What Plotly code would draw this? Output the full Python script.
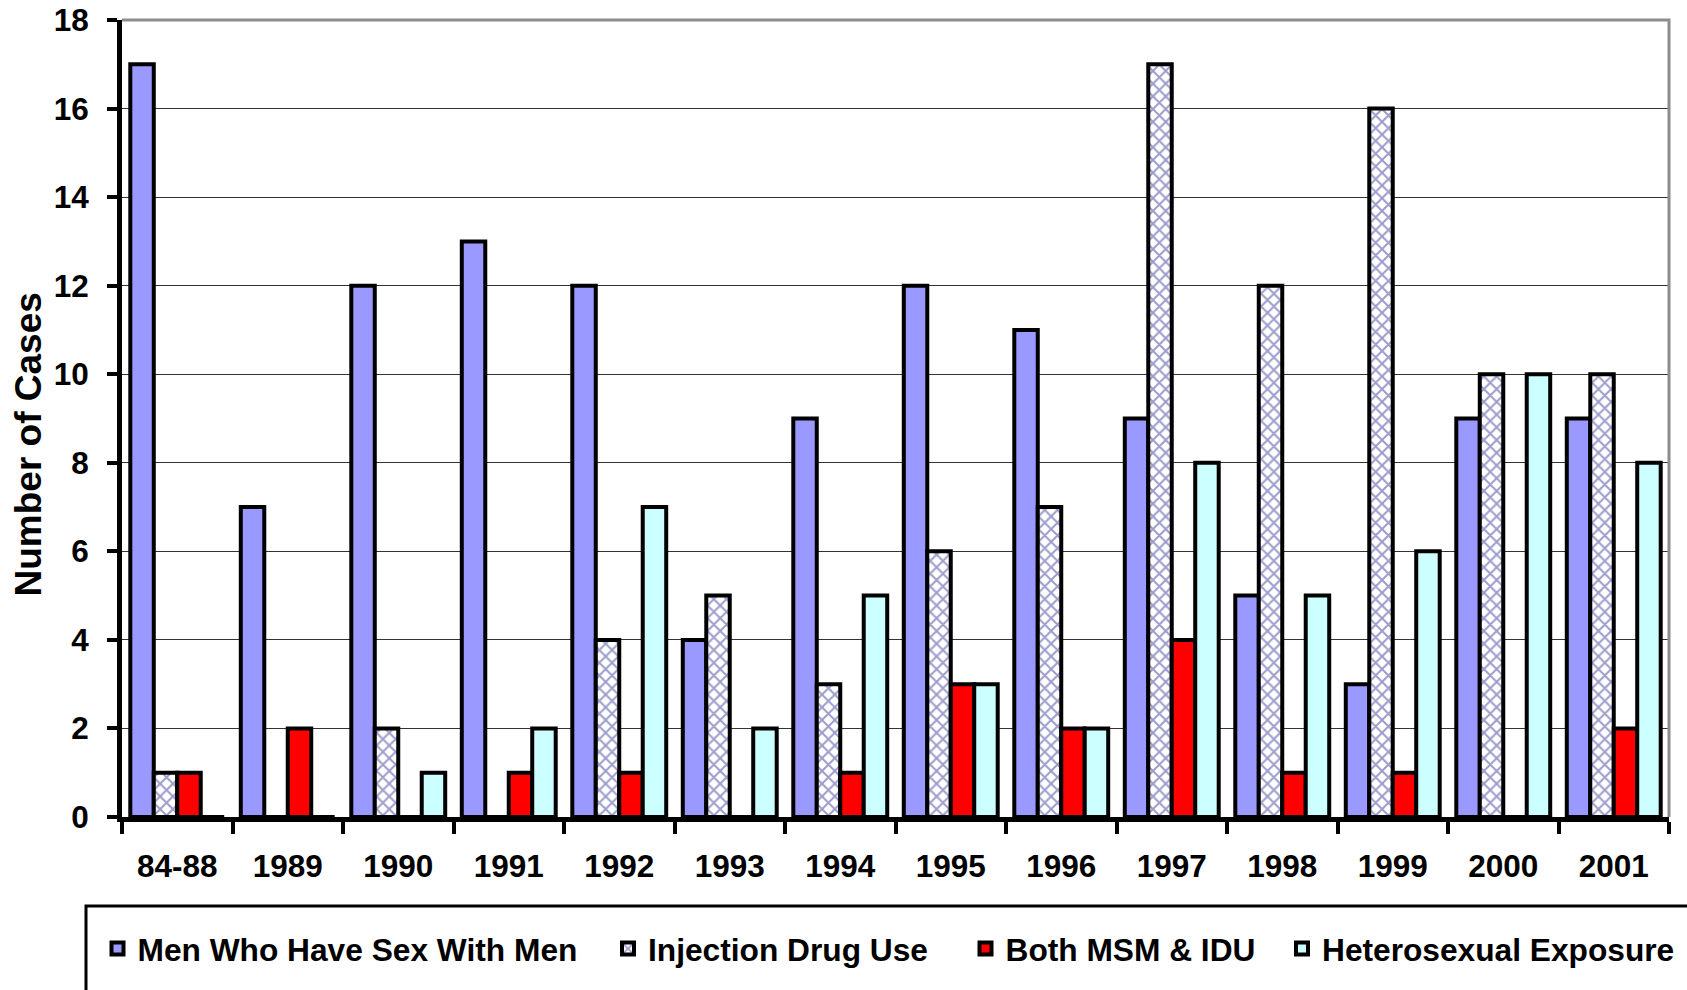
import plotly.graph_objects as go

# Reported cases by exposure category and year of diagnosis
categories = ["84-88", "1989", "1990", "1991", "1992", "1993", "1994",
              "1995", "1996", "1997", "1998", "1999", "2000", "2001"]
msm = [17, 7, 12, 13, 12, 4, 9, 12, 11, 9, 5, 3, 9, 9]
idu = [1, 0, 2, 0, 4, 5, 3, 6, 7, 17, 12, 16, 10, 10]
both = [1, 2, 0, 1, 1, 0, 1, 3, 2, 4, 1, 1, 0, 2]
hetero = [0, 0, 1, 2, 7, 2, 5, 3, 2, 8, 5, 6, 10, 8]

series_names = ["Men Who Have Sex With Men", "Injection Drug Use",
                "Both MSM & IDU", "Heterosexual Exposure"]
y_ticks = list(range(0, 19, 2))

W, H = 1687, 990
L, R, T, B = 122, 18, 20, 173
PW, PH = W - L - R, H - T - B


def px_x(p):
    return (p - L) / PW


def px_y(p):
    return (H - B - p) / PH


FONT = "Liberation Sans, Arial, sans-serif"
edge = dict(color="black", width=4)

fig = go.Figure()
fig.add_bar(x=categories, y=msm, name=series_names[0], legend="legend",
            marker=dict(color="#9999FF", line=edge))
fig.add_bar(x=categories, y=idu, name=series_names[1], legend="legend2",
            marker=dict(color="white", line=edge,
                        pattern=dict(shape="x", fgcolor="#3a3a98", bgcolor="white",
                                     size=9, solidity=0.4)))
fig.add_bar(x=categories, y=both, name=series_names[2], legend="legend3",
            marker=dict(color="#FF0000", line=edge))
fig.add_bar(x=categories, y=hetero, name=series_names[3], legend="legend4",
            marker=dict(color="#CCFFFF", line=edge))

tick_font = dict(family=FONT, size=31.5, color="black", weight="bold")
legend_font = dict(family=FONT, size=31.7, color="black", weight="bold")

legend_common = dict(orientation="h", font=legend_font, bgcolor="rgba(0,0,0,0)",
                     borderwidth=0, yanchor="middle", xanchor="left",
                     y=px_y(949))
symbol_centres = [117.5, 628, 985.5, 1302]

fig.update_layout(
    width=W, height=H,
    margin=dict(l=L, r=R, t=T, b=B, autoexpand=False),
    paper_bgcolor="white", plot_bgcolor="white",
    barmode="group", bargap=0.15, bargroupgap=0,
    showlegend=True,
    legend=dict(legend_common, x=px_x(symbol_centres[0] - 20)),
    legend2=dict(legend_common, x=px_x(symbol_centres[1] - 20)),
    legend3=dict(legend_common, x=px_x(symbol_centres[2] - 20)),
    legend4=dict(legend_common, x=px_x(symbol_centres[3] - 20)),
    xaxis=dict(type="category", tickson="boundaries", ticks="outside",
               ticklen=12, tickwidth=4, tickcolor="black", automargin=False,
               showline=True, linecolor="black", linewidth=5,
               showgrid=False, tickfont=tick_font, ticklabelstandoff=17),
    xaxis2=dict(type="linear", overlaying="x", anchor="y", automargin=False,
                range=[-0.5, len(categories) - 0.5],
                tickvals=[i - 0.5 for i in range(len(categories) + 1)],
                ticks="inside", ticklen=11, tickwidth=4, tickcolor="black",
                showticklabels=False, showgrid=False, showline=False,
                zeroline=False),
    yaxis=dict(range=[0, 18], tickvals=y_ticks, ticks="outside",
               ticklen=10, tickwidth=4, tickcolor="black", automargin=False,
               showline=True, linecolor="black", linewidth=5,
               showgrid=True, gridcolor="#333333", gridwidth=1.3,
               zeroline=False, tickfont=tick_font, ticklabelstandoff=12),
)

# grey frame on the top and right of the plotting area
fig.add_shape(type="path", xref="paper", yref="paper",
              path="M 0,1 L 1,1 L 1,0", line=dict(color="#8c8c8c", width=3),
              layer="above")
# legend frame
fig.add_shape(type="rect", xref="paper", yref="paper",
              x0=px_x(86), x1=px_x(1740), y0=px_y(906), y1=px_y(1040),
              line=dict(color="black", width=3), fillcolor="rgba(0,0,0,0)",
              layer="above")

fig.add_annotation(text="Number of Cases", textangle=-90, showarrow=False,
                   xref="paper", yref="paper", x=px_x(27.5), y=px_y(445),
                   xanchor="center", yanchor="middle",
                   font=dict(family=FONT, size=37, color="black", weight="bold"))

fig.write_html("out.html")
